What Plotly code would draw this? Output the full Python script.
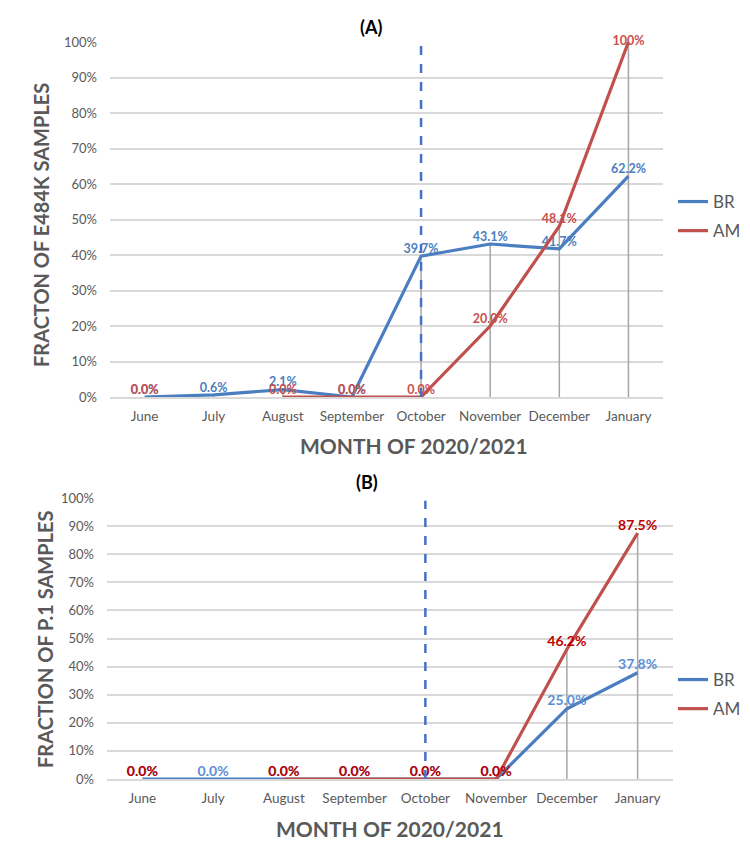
import plotly.graph_objects as go

months = ["June", "July", "August", "September", "October", "November", "December", "January"]

# Panel A: fraction of E484K samples (%)
a_br = [0.0, 0.6, 2.1, 0.0, 39.7, 43.1, 41.7, 62.2]
a_am = [0.0, None, 0.0, 0.0, 0.0, 20.0, 48.1, 100.0]

# Panel B: fraction of P.1 samples (%)
b_br = [0.0, 0.0, 0.0, 0.0, 0.0, 0.0, 25.0, 37.8]
b_am = [0.0, None, 0.0, 0.0, 0.0, 0.0, 46.2, 87.5]

marker_month = "October"
yticks = list(range(0, 101, 10))

# the page body has an 8px margin: the figure is sized to fill the rest of the window
OFF = 8
W, H = 750 - OFF, 852 - OFF
FONT = "Lato, Open Sans, sans-serif"
GRAY = "#595959"
BLUE = "#4A7EC1"
RED = "#C0504D"


def px_x(p):
    return (p - OFF) / W


def px_y(p):
    return 1 - (p - OFF) / H


def fmt(v):
    return "" if v is None else f"{v:.1f}%"


def fmt_a_am(v):
    if v is None:
        return ""
    return "100%" if v == 100 else f"{v:.1f}%"


def drop_lines(br, am):
    xs, ys = [], []
    for m, b, a in zip(months, br, am):
        top = max(v for v in (b, a) if v is not None)
        xs += [m, m, None]
        ys += [0, top, None]
    return xs, ys


fig = go.Figure()

# ---------- Panel A ----------
dx, dy = drop_lines(a_br, a_am)
fig.add_trace(go.Scatter(x=dx, y=dy, mode="lines", line=dict(color="#A6A6A6", width=1.5),
                         showlegend=False, hoverinfo="skip", xaxis="x", yaxis="y"))
fig.add_trace(go.Scatter(x=months, y=a_br, mode="lines+text", name="BR",
                         line=dict(color=BLUE, width=3.2),
                         text=[fmt(v) for v in a_br], textposition="top center",
                         textfont=dict(color="#4A7EC1", size=12.5, family=FONT, weight="bold"),
                         cliponaxis=False, legend="legend", legendgroup="a1",
                         xaxis="x", yaxis="y"))
fig.add_trace(go.Scatter(x=months, y=a_am, mode="lines+text", name="AM",
                         line=dict(color=RED, width=3.2), connectgaps=False,
                         text=[fmt_a_am(v) for v in a_am],
                         textposition=["top center"] * 7 + ["middle center"],
                         textfont=dict(color="#C9504D", size=12.5, family=FONT, weight="bold"),
                         cliponaxis=False, legend="legend", legendgroup="a2",
                         xaxis="x", yaxis="y"))
fig.add_trace(go.Scatter(x=[marker_month, marker_month], y=[0, 100], mode="lines",
                         line=dict(color="#4472C4", width=2.5, dash="dash"),
                         showlegend=False, hoverinfo="skip", cliponaxis=False,
                         xaxis="x", yaxis="y"))

# ---------- Panel B ----------
dx, dy = drop_lines(b_br, b_am)
fig.add_trace(go.Scatter(x=dx, y=dy, mode="lines", line=dict(color="#A6A6A6", width=1.5),
                         showlegend=False, hoverinfo="skip", xaxis="x2", yaxis="y2"))
fig.add_trace(go.Scatter(x=months, y=b_br, mode="lines+text", name="BR",
                         line=dict(color=BLUE, width=3.2),
                         text=[fmt(v) for v in b_br], textposition="top center",
                         textfont=dict(color="#5B8FD6", size=14, family=FONT, weight="bold"),
                         cliponaxis=False, legend="legend2", legendgroup="b1",
                         xaxis="x2", yaxis="y2"))
fig.add_trace(go.Scatter(x=months, y=b_am, mode="lines+text", name="AM",
                         line=dict(color=RED, width=3.2), connectgaps=False,
                         text=[fmt(v) for v in b_am], textposition="top center",
                         textfont=dict(color="#C00000", size=14, family=FONT, weight="bold"),
                         cliponaxis=False, legend="legend2", legendgroup="b2",
                         xaxis="x2", yaxis="y2"))
fig.add_trace(go.Scatter(x=[marker_month, marker_month], y=[0, 99], mode="lines",
                         line=dict(color="#4472C4", width=2.5, dash="dash"),
                         showlegend=False, hoverinfo="skip", cliponaxis=False,
                         xaxis="x2", yaxis="y2"))

xax = dict(type="category", categoryorder="array", categoryarray=months,
           range=[-0.5, len(months) - 0.5], autorange=False,
           showgrid=False, ticks="", showline=True, linecolor="#D9D9D9", linewidth=1.5,
           tickfont=dict(family=FONT, size=13.5, color=GRAY), ticklabelstandoff=6,
           zeroline=False, fixedrange=True)
yax = dict(range=[0, 100], autorange=False, tickvals=yticks,
           ticktext=[f"{v}%" for v in yticks],
           showgrid=True, gridcolor="#D9D9D9", gridwidth=1.5, zeroline=False,
           ticks="", showline=False, tickfont=dict(family=FONT, size=13, color=GRAY),
           ticklabelstandoff=12, fixedrange=True)

legend_common = dict(font=dict(family=FONT, size=17, color=GRAY), xanchor="left",
                     yanchor="top", bgcolor="rgba(0,0,0,0)", tracegroupgap=4,
                     itemwidth=30)


def ann(text, x, y, size, color=GRAY, angle=0):
    return dict(text=text, x=px_x(x), y=px_y(y), xref="paper", yref="paper",
                xanchor="center", yanchor="middle", showarrow=False, textangle=angle,
                font=dict(family=FONT, size=size, color=color))


fig.update_layout(
    width=W, height=H,
    margin=dict(l=0, r=0, t=0, b=0, autoexpand=False),
    paper_bgcolor="white", plot_bgcolor="white",
    font=dict(family=FONT, color=GRAY),
    xaxis=dict(xax, domain=[px_x(110), px_x(663)], anchor="y"),
    yaxis=dict(yax, domain=[px_y(397), px_y(42)], anchor="x"),
    xaxis2=dict(xax, domain=[px_x(107), px_x(673)], anchor="y2"),
    yaxis2=dict(yax, domain=[px_y(779), px_y(498)], anchor="x2"),
    legend=dict(legend_common, x=px_x(673), y=px_y(184)),
    legend2=dict(legend_common, x=px_x(673), y=px_y(662)),
    annotations=[
        ann("<b>(A)</b>", 371, 27, 18, "#000000"),
        ann("<b>(B)</b>", 367, 482, 18, "#000000"),
        ann("<b>MONTH OF 2020/2021</b>", 414, 445, 21),
        ann("<b>MONTH OF 2020/2021</b>", 390, 828, 21),
        ann("<b>FRACTON OF E484K SAMPLES</b>", 41, 225, 20, angle=-90),
        ann("<b>FRACTION OF P.1 SAMPLES</b>", 45, 639, 20, angle=-90),
    ],
)

fig.write_html("out.html")
